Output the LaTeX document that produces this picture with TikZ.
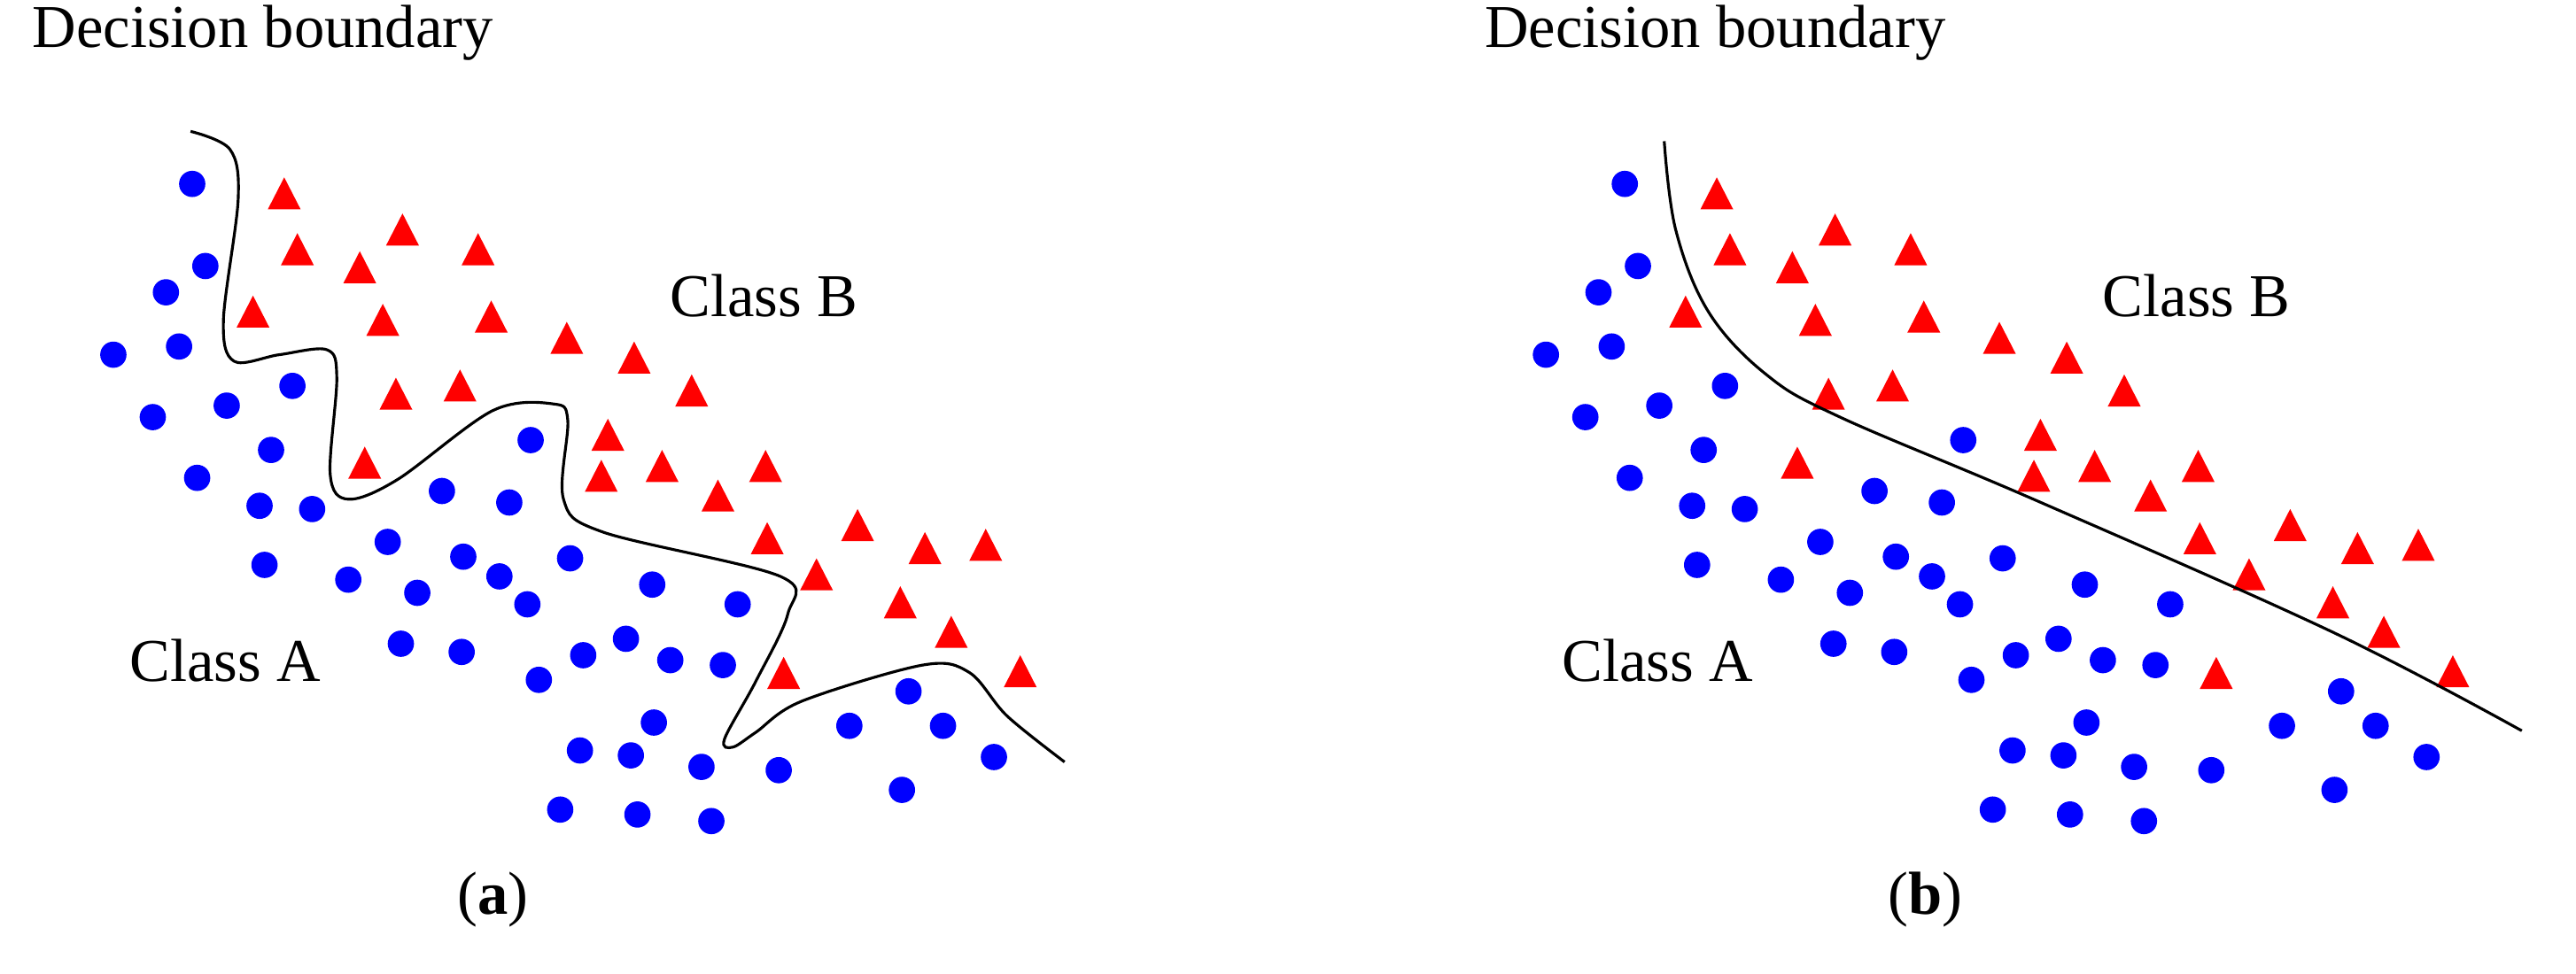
\documentclass[tikz,border=0pt]{standalone}
\usepackage{fontspec}
\setmainfont{Liberation Serif}
\definecolor{ptblue}{RGB}{0,0,255}
\definecolor{ptred}{RGB}{255,0,0}
\begin{document}
\begin{tikzpicture}[x=1pt,y=-1pt,
  lbl/.style={font=\fontsize{37}{40}\selectfont, inner sep=0pt},
  dot/.style={fill=ptblue, draw=none},
  tri/.style={fill=ptred, draw=none},
  bnd/.style={line width=1.7pt, black}]
\useasboundingbox (0,0) rectangle (1568,593);
\foreach \dx in {0,872}{
  \foreach \x/\y in {117/112,125/162,101/178,69/216,109/211,93/254,138/247,178/235,165/274,120/291,158/308,190/310,161/344,212/353,236/330,254/361,282/339,304/351,321/368,269/299,310/306,347/340,323/268,244/392,281/397,328/414,355/399,381/389,408/402,440/405,397/356,449/368,398/440,353/457,384/460,427/467,474/469,517/442,553/421,574/442,605/461,549/481,341/493,388/496,433/500}
    \fill[dot] (\x+\dx,\y) circle [radius=8];
  \foreach \x/\y in {173/118,181/152,245/140,291/152,219/163,154/190,233/195,299/193,345/206,386/218,421/238,241/240,280/235,370/265,366/290,403/284,437/302,466/284,222/282,467/328,522/320,563/334,600/332,497/350,548/367,579/385,621/409,477/410}
    \fill[tri] (\x+\dx-10,\y+9.5) -- (\x+\dx+10,\y+9.5) -- (\x+\dx,\y-10) -- cycle;
}
\node[lbl] (dba) at (160,20) {Decision boundary};
\node[lbl] (dbb) at (1044,20) {Decision boundary};
\node[lbl] (cba) at (465,180) {Class B};
\node[lbl] (cbb) at (1337,180) {Class B};
\node[lbl] (caa) at (137,402) {Class A};
\node[lbl] (cab) at (1009,402) {Class A};
\node[lbl] (pa) at (300,548) {(\textbf{a})};
\node[lbl] (pb) at (1172,548) {(\textbf{b})};
\draw[bnd] plot[smooth, tension=0.55] coordinates {(116,80) (140,91) (145,121) (136,195) (142.5,220) (170,216) (199,213) (205,230) (201,289) (212,304) (242,292) (300,250) (337,246) (345.6,256) (343,304) (367,324) (475,351) (479.5,374) (460,415) (441,450) (446,455) (460,446) (488,427) (561.6,405) (590,409.5) (613,436) (648,464)};
\draw[bnd] plot[smooth, tension=0.6] coordinates {(1013,86) (1020,140) (1040,190) (1075,228) (1120,254) (1240,305) (1420,385) (1535,445)};
\end{tikzpicture}
\end{document}
